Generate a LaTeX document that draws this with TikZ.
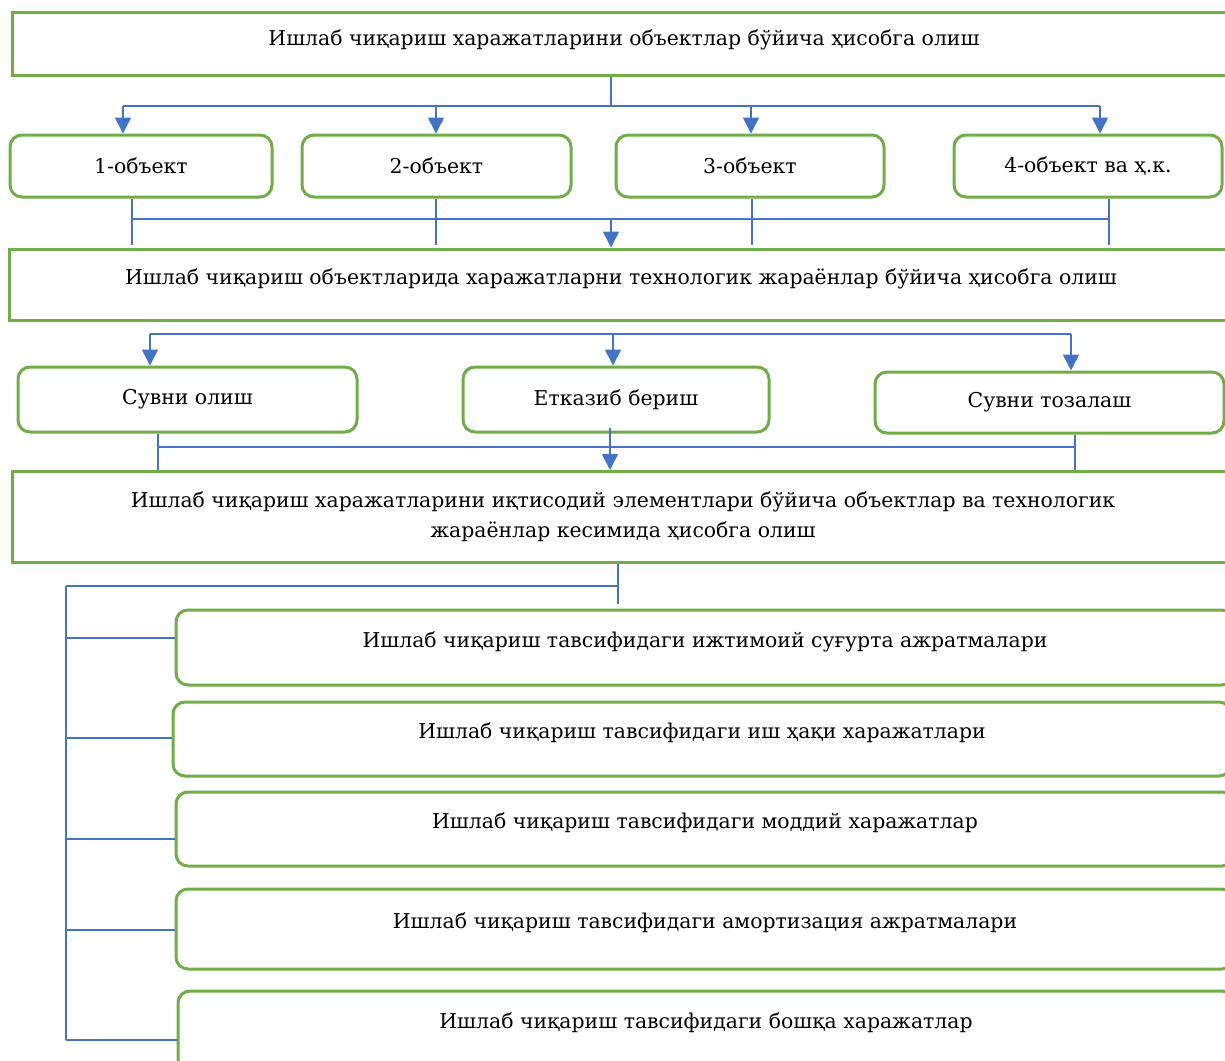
\documentclass[tikz,border=0pt]{standalone}
\usepackage{fontspec}
\setmainfont{DejaVu Serif}
\usetikzlibrary{arrows.meta,calc,positioning}

\definecolor{boxgreen}{RGB}{112,173,71}
\definecolor{linkblue}{RGB}{68,114,196}

\begin{document}
\begin{tikzpicture}[x=0.5pt, y=-0.5pt, >={Triangle[length=8pt,width=8pt]},
  box/.style={draw=boxgreen, line width=1.5pt, inner sep=0pt, align=center, font=\fontsize{10.2}{15}\selectfont},
  rbox/.style={box, rounded corners=6pt},
  raise/.style={text height=8pt, text depth=#1},
  link/.style={draw=linkblue, line width=0.8pt},
  arr/.style={link, ->, fill=linkblue}]
  \useasboundingbox (0,0) rectangle (1225,1060);
  \clip (0,0) rectangle (1225,1060);

  % Top level
  \node[box, raise=5.5pt, minimum width=612pt, minimum height=31.5pt] (top) at (624,43.5)
    {Ишлаб чиқариш харажатларини объектлар бўйича ҳисобга олиш};

  % Objects
  \node[rbox, minimum width=131pt, minimum height=31pt] (o1) at (141,166) {1-объект};
  \node[rbox, minimum width=134.5pt, minimum height=31pt] (o2) at (436.5,166) {2-объект};
  \node[rbox, minimum width=134pt, minimum height=31pt] (o3) at (750,166) {3-объект};
  \node[rbox, minimum width=134pt, minimum height=31pt] (o4) at (1088,166) {4-объект ва ҳ.к.};

  % Processes by object
  \node[box, raise=8.5pt, minimum width=612pt, minimum height=35.5pt] (mid) at (621,284.5)
    {Ишлаб чиқариш объектларида харажатларни технологик жараёнлар бўйича ҳисобга олиш};

  % Technological processes
  \node[rbox, minimum width=169.5pt, minimum height=32.5pt] (p1) at (187.5,399.5) {Сувни олиш};
  \node[rbox, minimum width=153pt, minimum height=32.5pt] (p2) at (616,399.5) {Етказиб бериш};
  \node[rbox, minimum width=174.5pt, minimum height=30.5pt] (p3) at (1049.5,402.5) {Сувни тозалаш};

  % Economic elements
  \node[box, minimum width=611pt, minimum height=45.5pt] (elem) at (623,517)
    {Ишлаб чиқариш харажатларини иқтисодий элементлари бўйича объектлар ва технологик\\
     жараёнлар кесимида ҳисобга олиш};

  % Cost items
  \node[rbox, raise=8.5pt, minimum width=529pt, minimum height=37.5pt] (e1) at (705,647.5)
    {Ишлаб чиқариш тавсифидаги ижтимоий суғурта ажратмалари};
  \node[rbox, raise=8.5pt, minimum width=529pt, minimum height=37pt] (e2) at (702,739)
    {Ишлаб чиқариш тавсифидаги иш ҳақи харажатлари};
  \node[rbox, raise=8.5pt, minimum width=529pt, minimum height=37pt] (e3) at (705,829)
    {Ишлаб чиқариш тавсифидаги моддий харажатлар};
  \node[rbox, raise=8.5pt, minimum width=529pt, minimum height=40pt] (e4) at (705,929)
    {Ишлаб чиқариш тавсифидаги амортизация ажратмалари};
  \node[rbox, raise=10.5pt, minimum width=528pt, minimum height=40pt] (e5) at (706,1031)
    {Ишлаб чиқариш тавсифидаги бошқа харажатлар};

  % Top -> objects
  \coordinate (t0) at (611,106);
  \draw[link] (t0 |- top.south) -- (t0);
  \foreach \n/\x in {o1/123,o2/436,o3/751,o4/1100} {
    \coordinate (d\n) at (\x,106);
    \draw[arr] (d\n) -- (d\n |- \n.north);
  }
  \draw[link] (do1) -- (do4);

  % Objects -> processes by object
  \foreach \n/\x in {o1/132,o2/436,o3/752,o4/1109} {
    \coordinate (u\n) at (\x,219);
    \draw[link] (u\n |- \n.south) -- ++(0,46);
  }
  \draw[link] (uo1) -- (uo4);
  \coordinate (m0) at (611,219);
  \draw[arr] (m0) -- (m0 |- mid.north);

  % Processes by object -> technological processes
  \foreach \n/\x in {p1/150,p2/613,p3/1071} {
    \coordinate (d\n) at (\x,334);
    \draw[arr] (d\n) -- (d\n |- \n.north);
  }
  \draw[link] (dp1) -- (dp3);

  % Technological processes -> economic elements
  \coordinate (up1) at (158,447);
  \coordinate (up3) at (1075,447);
  \draw[link] (up1 |- p1.south) -- (up1 |- elem.north);
  \draw[link] (up3 |- p3.south) -- (up3 |- elem.north);
  \draw[link] (up1) -- (up3);
  \coordinate (up2) at (610,428);
  \draw[arr] (up2) -- (up2 |- elem.north);

  % Economic elements -> cost items
  \coordinate (s0) at (618,586);
  \coordinate (s1) at (66,586);
  \draw[link] (s0 |- elem.south) -- (s0 |- 0,604);
  \draw[link] (s0) -- (s1);
  \foreach \n/\y in {e1/638,e2/738,e3/839,e4/930,e5/1040} {
    \coordinate (l\n) at (66,\y);
    \draw[link] (l\n) -- (l\n -| \n.west);
  }
  \draw[link] (s1) -- (le5);
\end{tikzpicture}
\end{document}
